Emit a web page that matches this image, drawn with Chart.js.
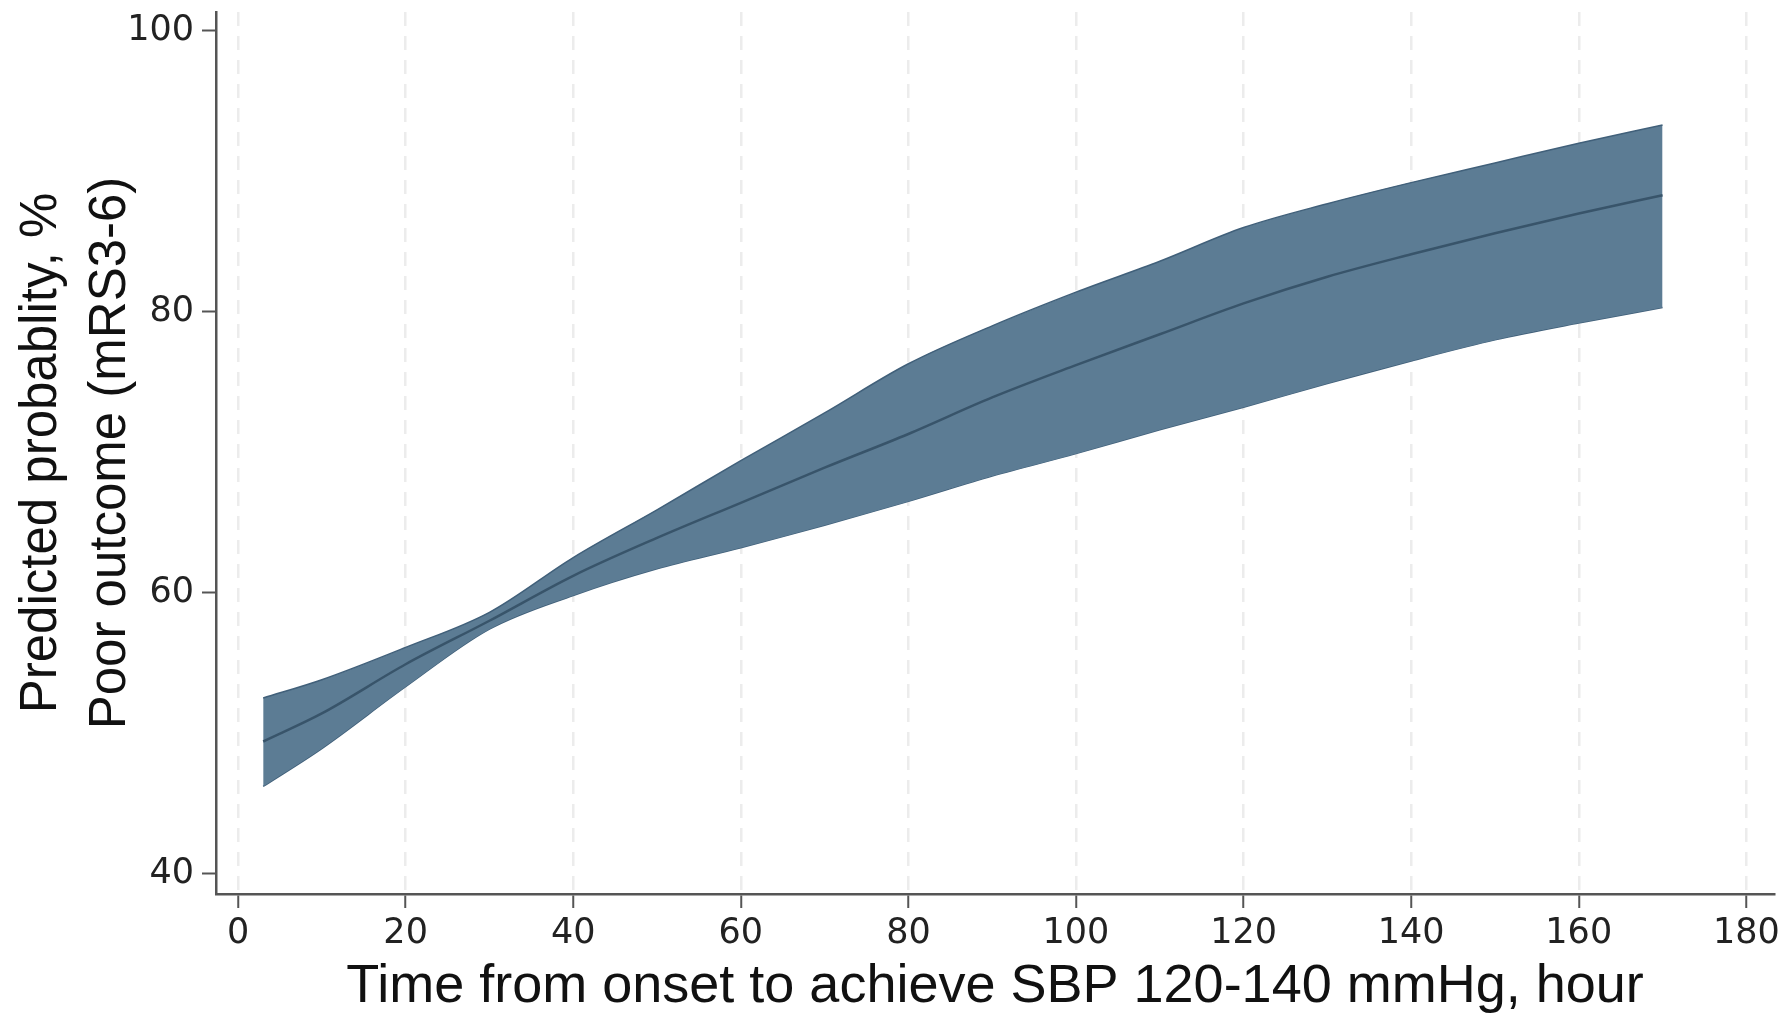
<!DOCTYPE html>
<html>
<head>
<meta charset="utf-8">
<script src="https://cdn.jsdelivr.net/npm/chart.js@4.4.0/dist/chart.umd.min.js"></script>
<style>
html, body { margin: 0; padding: 0; background: #fff; }
canvas { display: block; }
</style>
</head>
<body>
<canvas id="probChart" width="1787" height="1014"></canvas>
<script>
// time from onset (hours) and predicted probability of poor outcome, with CI
const hours     = [3, 10, 20, 30, 40, 50, 60, 70, 80, 90, 100, 110, 120, 130, 140, 150, 160, 170];
const upperCI   = [52.5, 53.8, 56.1, 58.6, 62.5, 65.9, 69.4, 72.8, 76.3, 79.0, 81.4, 83.6, 86.0, 87.7, 89.2, 90.6, 92.0, 93.3];
const predicted = [49.4, 51.4, 54.9, 58.0, 61.2, 63.9, 66.4, 68.9, 71.3, 73.9, 76.2, 78.4, 80.6, 82.5, 84.1, 85.6, 87.0, 88.3];
const lowerCI   = [46.2, 48.9, 53.3, 57.4, 59.8, 61.7, 63.2, 64.8, 66.5, 68.3, 69.9, 71.6, 73.2, 74.9, 76.5, 78.0, 79.2, 80.3];

const xTicks = [0, 20, 40, 60, 80, 100, 120, 140, 160, 180];
const yTicks = [40, 60, 80, 100];

const toPoints = (vals) => hours.map((h, i) => ({ x: h, y: vals[i] }));

Chart.defaults.font.family = "'Liberation Sans', Arial, sans-serif";
Chart.defaults.color = "#222";

const tickFont = { family: "'DejaVu Sans', sans-serif", size: 35 };

const ctx = document.getElementById("probChart").getContext("2d");

new Chart(ctx, {
    type: "line",
    data: {
        datasets: [
            {
                label: "lower",
                data: toPoints(lowerCI),
                borderColor: "#41607a",
                borderWidth: 1.5,
                pointRadius: 0,
                fill: false,
                order: 2,
                cubicInterpolationMode: "monotone"
            },
            {
                label: "upper",
                data: toPoints(upperCI),
                borderColor: "#41607a",
                borderWidth: 1.5,
                backgroundColor: "#5c7c94",
                pointRadius: 0,
                fill: "-1",
                order: 1,
                cubicInterpolationMode: "monotone"
            },
            {
                // drawn last so it sits on top of the band
                label: "predicted",
                data: toPoints(predicted),
                borderColor: "#38546a",
                borderWidth: 2.5,
                pointRadius: 0,
                fill: false,
                order: 0,
                cubicInterpolationMode: "monotone"
            }
        ]
    },
    options: {
        responsive: false,
        animation: false,
        events: [],
        layout: { padding: { top: 12, right: 13, left: 0, bottom: 0 } },
        scales: {
            x: {
                type: "linear",
                min: -2.63,
                max: 183.3,
                afterBuildTicks: (axis) => { axis.ticks = xTicks.map(v => ({ value: v })); },
                afterFit: (axis) => {
                    axis.height = 120;
                    axis.paddingLeft = 0;
                    axis.paddingRight = 0;
                },
                ticks: {
                    font: tickFont,
                    color: "#222",
                    padding: 5,
                    maxRotation: 0,
                    autoSkip: false
                },
                grid: {
                    color: "#ececec",
                    lineWidth: 2.5,
                    tickColor: "#555",
                    tickWidth: 2,
                    tickLength: 14
                },
                border: { color: "#555", width: 2.5, dash: [14, 10] },
                title: {
                    display: true,
                    text: "Time from onset to achieve SBP 120-140 mmHg, hour",
                    font: { size: 54, lineHeight: 1.0 },
                    color: "#111",
                    padding: { top: 0, bottom: 0 }
                }
            },
            y: {
                type: "linear",
                min: 38.54,
                max: 101.35,
                afterBuildTicks: (axis) => { axis.ticks = yTicks.map(v => ({ value: v })); },
                afterFit: (axis) => {
                    axis.width = 216;
                    axis.paddingTop = 0;
                    axis.paddingBottom = 0;
                },
                ticks: {
                    font: tickFont,
                    color: "#222",
                    padding: 8
                },
                grid: {
                    drawOnChartArea: false,
                    tickColor: "#555",
                    tickWidth: 2,
                    tickLength: 14
                },
                border: { color: "#555", width: 2.5 },
                title: {
                    display: true,
                    text: ["Predicted probablity, %", "Poor outcome (mRS3-6)"],
                    font: { size: 51, lineHeight: 1.34 },
                    color: "#111",
                    padding: { top: 8, bottom: 0 }
                }
            }
        },
        plugins: {
            legend: { display: false },
            tooltip: { enabled: false }
        }
    }
});
</script>
</body>
</html>
